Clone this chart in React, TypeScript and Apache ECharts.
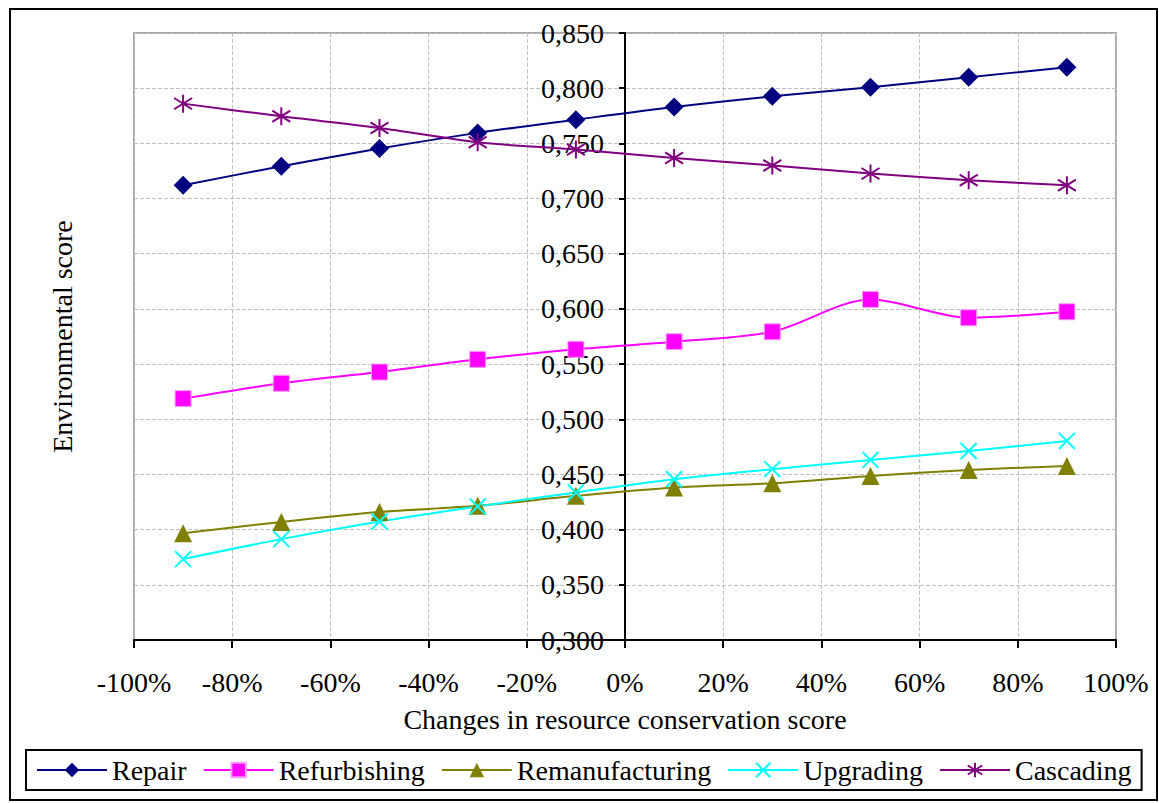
import React, { useEffect, useRef } from "react";
import * as echarts from "echarts";

const xValues = [-90, -70, -50, -30, -10, 10, 30, 50, 70, 90];
const repair = [0.712, 0.7293, 0.7453, 0.7595, 0.7715, 0.783, 0.7926, 0.8008, 0.81, 0.8189];
const refurbishing = [0.5187, 0.5326, 0.5428, 0.5543, 0.5634, 0.5703, 0.5793, 0.6086, 0.592, 0.5974];
const remanufacturing = [0.3968, 0.407, 0.416, 0.4216, 0.4306, 0.4382, 0.442, 0.4487, 0.4541, 0.4577];
const upgrading = [0.3733, 0.3914, 0.4074, 0.421, 0.4337, 0.4457, 0.4548, 0.4632, 0.4713, 0.4804];
const cascading = [0.786, 0.7745, 0.764, 0.751, 0.7444, 0.7368, 0.73, 0.7226, 0.7166, 0.712];

const FONT = '"Liberation Serif", "Times New Roman", serif';
const FS = 28;

const pair = (ys: number[]) => xValues.map((x, i) => [x, ys[i]]);

export default function App() {
  const ref = useRef<HTMLDivElement>(null);
  useEffect(() => {
    document.body.style.margin = "0";
    const chart = echarts.init(ref.current!, undefined, { renderer: "svg" });
    const mk = (
      name: string,
      ys: number[],
      color: string,
      symbol: string,
      size: number,
      stroke?: boolean,
      border?: string
    ) => ({
      name,
      type: "line",
      data: pair(ys),
      smooth: 0.3,
      symbol,
      symbolSize: size,
      showAllSymbol: true,
      lineStyle: { color, width: 2 },
      itemStyle: stroke
        ? { color: color, borderColor: color, borderWidth: 2 }
        : { color, borderColor: border || color, borderWidth: border ? 1 : 0 },
      emphasis: { disabled: true },
    });
    const gridLeft = 134;
    const gridRight = 43;
    const plotW = 1159 - gridLeft - gridRight;
    chart.setOption({
      animation: false,
      backgroundColor: "#ffffff",
      textStyle: { fontFamily: FONT, color: "#000" },
      graphic: [
        {
          type: "rect",
          shape: { x: 10, y: 9, width: 1147, height: 791 },
          style: { fill: "none", stroke: "#000", lineWidth: 2 },
          z: 100,
        },
      ],
      grid: {
        left: gridLeft,
        right: gridRight,
        top: 33,
        bottom: 163,
        show: true,
        borderColor: "#a8a8a8",
        borderWidth: 2,
        backgroundColor: "#fff",
        containLabel: false,
        outerBoundsMode: "none",
      },
      xAxis: {
        type: "value",
        min: -100,
        max: 100,
        interval: 20,
        name: "Changes in resource conservation score",
        nameLocation: "middle",
        nameGap: 65,
        nameTextStyle: { fontFamily: FONT, fontSize: FS, color: "#000" },
        axisLine: { onZero: false, lineStyle: { color: "#000", width: 2 } },
        axisTick: { show: true, length: 8, lineStyle: { color: "#000", width: 2 } },
        axisLabel: {
          margin: 28,
          fontFamily: FONT,
          fontSize: FS,
          color: "#000",
          showMinLabel: true,
          showMaxLabel: true,
          hideOverlap: false,
          formatter: (v: number) => `${v}%`,
        },
        splitLine: { show: true, lineStyle: { color: "#c0c0c0", type: "dashed", width: 1 } },
      },
      yAxis: {
        type: "value",
        min: 0.3,
        max: 0.85,
        interval: 0.05,
        position: "left",
        offset: -plotW / 2,
        name: "Environmental score",
        nameLocation: "middle",
        nameGap: 549,
        nameRotate: 90,
        nameTextStyle: { fontFamily: FONT, fontSize: FS, color: "#000" },
        axisLine: { show: true, onZero: false, lineStyle: { color: "#000", width: 2 } },
        axisTick: { show: true, length: 6, lineStyle: { color: "#000", width: 2 } },
        axisLabel: {
          margin: 21,
          fontFamily: FONT,
          fontSize: FS,
          color: "#000",
          showMinLabel: true,
          showMaxLabel: true,
          formatter: (v: number) => v.toFixed(3).replace(".", ","),
        },
        splitLine: { show: true, lineStyle: { color: "#c0c0c0", type: "dashed", width: 1 } },
      },
      legend: {
        left: 26,
        top: 750,
        orient: "horizontal",
        padding: [6, 10],
        itemGap: 16,
        itemWidth: 70,
        itemHeight: 18,
        borderColor: "#000",
        borderWidth: 2,
        backgroundColor: "#fff",
        textStyle: { fontFamily: FONT, fontSize: FS, color: "#000" },
        data: ["Repair", "Refurbishing", "Remanufacturing", "Upgrading", "Cascading"],
      },
      series: [
        mk("Repair", repair, "#000080", "diamond", 19),
        mk("Refurbishing", refurbishing, "#ff00ff", "rect", 16, false, "#ff9cff"),
        mk("Remanufacturing", remanufacturing, "#808000", "triangle", 18),
        mk("Upgrading", upgrading, "#00ffff", "path://M0,0L16,16M16,0L0,16", 16, true),
        mk("Cascading", cascading, "#800080", "path://M8,0L8,16M0,3L16,13M16,3L0,13", 18, true),
      ],
    });
    return () => chart.dispose();
  }, []);
  return <div ref={ref} style={{ width: 1159, height: 803 }} />;
}
